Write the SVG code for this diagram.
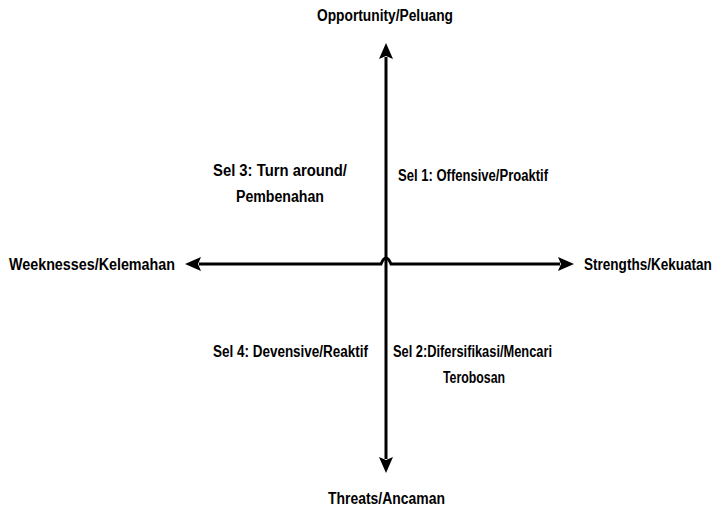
<svg xmlns="http://www.w3.org/2000/svg" width="723" height="512" viewBox="0 0 723 512">
  <style>
    .lbl { font-family: "Liberation Sans Narrow", "Liberation Sans", Arial, sans-serif; font-weight: bold; font-size: 16px; fill: #000; }
    .axis { stroke: #000; stroke-width: 3; fill: none; }
  </style>
  <defs>
    <marker id="head" viewBox="0 0 16 14" refX="2" refY="7" markerWidth="16" markerHeight="14" markerUnits="userSpaceOnUse" orient="auto-start-reverse">
      <path d="M0,0 L16,7 L0,14 L3,7 Z" fill="#000"/>
    </marker>
  </defs>

  <g id="connectors">
    <!-- vertical axis: threats to opportunity -->
    <path class="axis" d="M386,459 L386,57" marker-start="url(#head)" marker-end="url(#head)"/>
    <!-- horizontal axis: hops over the vertical one at the origin -->
    <path class="axis" d="M199,264 L381,264 Q386,252 391,264 L560,264" marker-start="url(#head)" marker-end="url(#head)"/>
  </g>

  <g id="opportunity"><text class="lbl" x="317" y="21" textLength="136" lengthAdjust="spacingAndGlyphs">Opportunity/Peluang</text></g>
  <g id="threats"><text class="lbl" x="328" y="504" textLength="117" lengthAdjust="spacingAndGlyphs">Threats/Ancaman</text></g>
  <g id="weaknesses"><text class="lbl" x="9" y="270" textLength="166" lengthAdjust="spacingAndGlyphs">Weeknesses/Kelemahan</text></g>
  <!-- condensed horizontally so it stays inside the right edge -->
  <g id="strengths"><text class="lbl" transform="translate(584,270) scale(0.847,1)">Strengths/Kekuatan</text></g>

  <g id="sel3">
    <text class="lbl" x="213" y="176" textLength="134" lengthAdjust="spacingAndGlyphs">Sel 3: Turn around/</text>
    <text class="lbl" x="236" y="202" textLength="88" lengthAdjust="spacingAndGlyphs">Pembenahan</text>
  </g>
  <g id="sel1"><text class="lbl" x="398" y="181" textLength="150" lengthAdjust="spacingAndGlyphs">Sel 1: Offensive/Proaktif</text></g>
  <g id="sel4"><text class="lbl" x="213" y="357" textLength="155" lengthAdjust="spacingAndGlyphs">Sel 4: Devensive/Reaktif</text></g>
  <g id="sel2">
    <text class="lbl" x="393" y="357" textLength="159" lengthAdjust="spacingAndGlyphs">Sel 2:Difersifikasi/Mencari</text>
    <text class="lbl" x="443" y="383" textLength="62" lengthAdjust="spacingAndGlyphs">Terobosan</text>
  </g>
</svg>
